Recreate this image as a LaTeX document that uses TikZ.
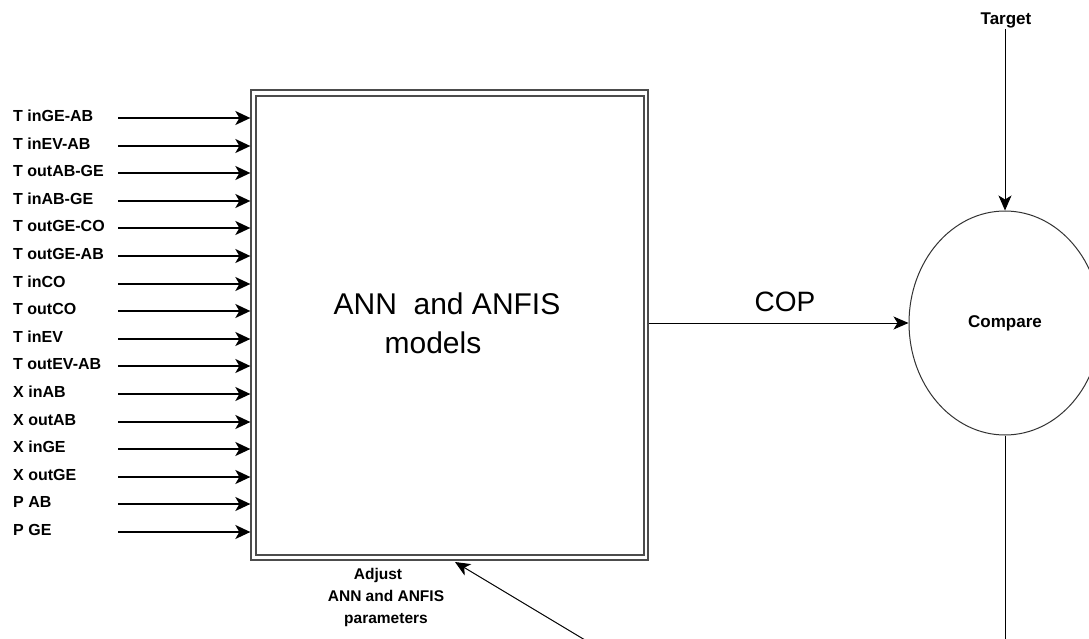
\documentclass[tikz,border=0pt]{standalone}
\usepackage{fontspec}
\setmainfont{Liberation Sans}
\usetikzlibrary{arrows.meta,shapes.geometric,calc}
\begin{document}
\begin{tikzpicture}[x=1pt,y=-1pt,
  lbl/.style={anchor=west,inner sep=0pt,font=\fontsize{16}{19}\selectfont\bfseries},
  inarr/.style={line width=1.6pt,-{Stealth[length=15pt,width=14pt,inset=4pt]}},
  thinarr/.style={line width=1pt,-{Stealth[length=15pt,width=13pt,inset=4pt]}},
  boxline/.style={draw=black!70,line width=1.3pt}
]
\clip (0,0) rectangle (1089,639);
\fill[white] (0,0) rectangle (1089,639);
% main box (double border)
\node[boxline,rectangle,minimum width=397pt,minimum height=470pt,inner sep=0pt] (box) at (449.5,325) {};
\node[boxline,rectangle,minimum width=388pt,minimum height=459pt,inner sep=0pt] (inbox) at (450,325.5) {};
\node[align=center,font=\fontsize{30}{39}\selectfont] (title) at (447,323) {ANN\ \ and ANFIS\\models\hspace*{28pt}};
% inputs
\foreach \t [count=\i from 0] in {T inGE-AB,T inEV-AB,T outAB-GE,T inAB-GE,T outGE-CO,T outGE-AB,T inCO,T outCO,T inEV,T outEV-AB,X inAB,X outAB,X inGE,X outGE,P AB,P GE}{
  \pgfmathtruncatemacro{\yy}{118+27.6*\i+0.5}
  \node[lbl] (l\i) at (13,\yy-2) {\t};
  \coordinate (s\i) at (118,\yy);
  \draw[inarr] (s\i) -- (s\i -| box.west);
}
% compare
\node[draw=black!80,line width=1pt,ellipse,minimum width=192pt,minimum height=224pt,inner sep=0pt,font=\fontsize{17}{20}\selectfont\bfseries] (cmp) at (1005,323) {Compare};
\node[font=\fontsize{17}{20}\selectfont\bfseries,inner sep=1pt] (tgt) at (1006,20) {Target};
\draw[thinarr] (tgt.south -| cmp.north) -- (cmp.north);
\coordinate (bot) at (1005,640);
\draw[line width=1pt] (cmp.south) -- (bot);
% COP
\draw[thinarr] (box.east |- cmp.west) -- (cmp.west);
\node[font=\fontsize{28}{32}\selectfont] (cop) at (785,302) {COP};
% feedback
\coordinate (fb) at (585,640);
\coordinate (fbend) at (455,562);
\draw[thinarr] (fb) -- (fbend);
\node[align=center,font=\fontsize{15.5}{22}\selectfont\bfseries] (adj) at (386,597) {Adjust\hspace*{16pt}\\ANN and ANFIS\\parameters};
\end{tikzpicture}
\end{document}
